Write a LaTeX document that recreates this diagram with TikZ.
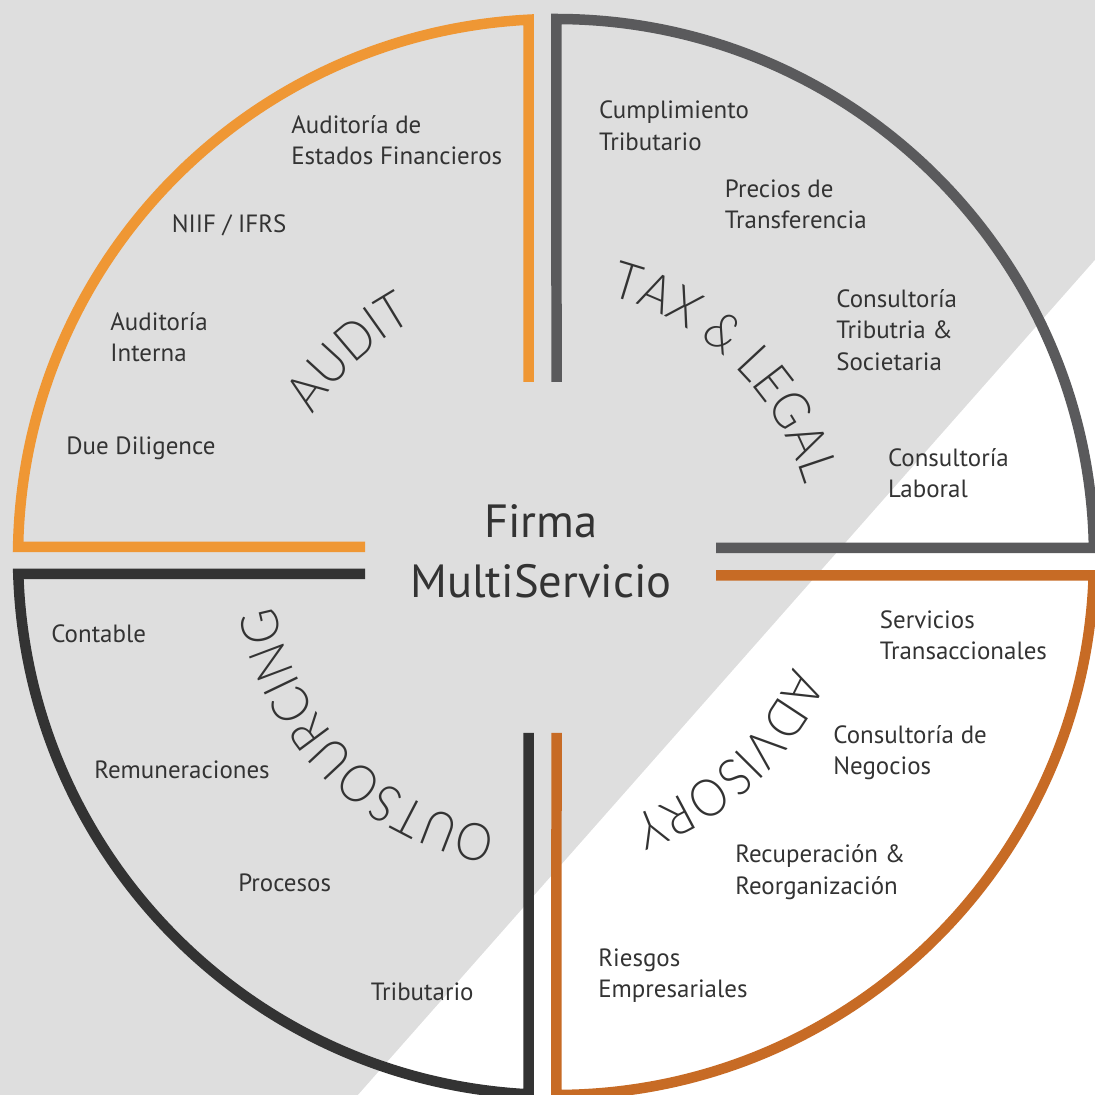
\documentclass[tikz,border=0pt]{standalone}
\usepackage{fontspec}
\setmainfont{PT Sans}
\newfontfamily\titlefont{Lato Light}[FakeStretch=0.9]
\usetikzlibrary{calc,decorations.text}

\definecolor{bggray}{RGB}{222,222,222}
\definecolor{auditorange}{RGB}{239,151,52}
\definecolor{taxgray}{RGB}{90,90,92}
\definecolor{outsblack}{RGB}{51,51,51}
\definecolor{advbrown}{RGB}{199,107,37}
\definecolor{txtdark}{RGB}{51,51,51}

\newcommand{\itemfont}{\fontsize{14.2}{18.1}\selectfont}
\newcommand{\firmfont}{\fontsize{26.5}{34.6}\selectfont}
\newcommand{\areafont}{\titlefont\fontsize{29.5}{32}\selectfont}

\begin{document}
\begin{tikzpicture}[
    x=0.02cm,
    y=0.02cm,
    quarter/.style={line width=0.21cm, line join=miter},
    audit/.style={quarter, draw=auditorange},
    tax/.style={quarter, draw=taxgray},
    outs/.style={quarter, draw=outsblack},
    adv/.style={quarter, draw=advbrown},
    item/.style={anchor=base west, inner sep=0pt, align=left, font=\itemfont, text=txtdark},
    firm/.style={anchor=base, inner sep=0pt, align=center, font=\firmfont, text=txtdark},
    area/.style={decorate, decoration={text along path, text align=center,
        text color=txtdark, text={|\areafont|#1}}}
]
\useasboundingbox (0,0) rectangle (1095,1095);
\clip (0,0) rectangle (1095,1095);

% ============================================================
% FONDO
% ============================================================
\fill[bggray] (0,0) rectangle (1095,1095);
\fill[white] (1095,835) -- (358,0) -- (1095,0) -- cycle;

\coordinate (C) at (556,538);
\coordinate (M) at (543,535);

% ============================================================
% CUADRANTES
% ============================================================
\draw[audit] (365,548) -- ($(C)+(178.93:538)$)
    arc[start angle=178.93, end angle=92.93, radius=538] -- (528.5,713);
\draw[tax] (556.5,713) -- ($(C)+(89.95:538)$)
    arc[start angle=89.95, end angle=0.96, radius=538] -- (716,547);
\draw[outs] (365,521) -- ($(C)+(181.81:538)$)
    arc[start angle=181.81, end angle=267.07, radius=538] -- (528.5,362);
\draw[adv] (556.5,362) -- ($(C)+(270.05:538)$)
    arc[start angle=270.05, end angle=358.03, radius=538] -- (716,519.5);

% ============================================================
% TITULOS DE AREA
% ============================================================
\path[area={AUDIT}] ($(M)+(178:272)$) arc[start angle=178, end angle=88, radius=272];
\path[area={TAX {\&} LEGAL}] ($(M)+(91:272)$) arc[start angle=91, end angle=1, radius=272];
\path[area={OUTSOURCING}] ($(M)+(270:272)$) arc[start angle=270, end angle=180, radius=272];
\path[area={ADVISORY}] ($(M)+(358:272)$) arc[start angle=358, end angle=268, radius=272];

% ============================================================
% CENTRO (base = ultima linea)
% ============================================================
\node[firm] (firma) at (541,497) {Firma\\MultiServicio};

% ============================================================
% SERVICIOS
% ============================================================
\node[item] (audfin) at (291,930.1) {Auditoría de\\Estados Financieros};
\node[item] (audniif) at (171.5,862) {NIIF / IFRS};
\node[item] (audint) at (110,733.1) {Auditoría\\Interna};
\node[item] (auddue) at (66,640) {Due Diligence};

\node[item] (taxcump) at (598.7,944.5) {Cumplimiento\\Tributario};
\node[item] (taxprec) at (724.6,866.1) {Precios de\\Transferencia};
\node[item] (taxcons) at (836,724.2) {Consultoría\\Tributria \&\\Societaria};
\node[item] (taxlab) at (887.7,597.1) {Consultoría\\Laboral};

\node[item] (outcont) at (51,452.6) {Contable};
\node[item] (outrem) at (94,316) {Remuneraciones};
\node[item] (outproc) at (238,203) {Procesos};
\node[item] (outtrib) at (370.5,94) {Tributario};

\node[item] (advserv) at (879.5,435.1) {Servicios\\Transaccionales};
\node[item] (advcons) at (833,320.1) {Consultoría de\\Negocios};
\node[item] (advrec) at (735,200.7) {Recuperación \&\\Reorganización};
\node[item] (advries) at (598,97.1) {Riesgos\\Empresariales};

\end{tikzpicture}
\end{document}
